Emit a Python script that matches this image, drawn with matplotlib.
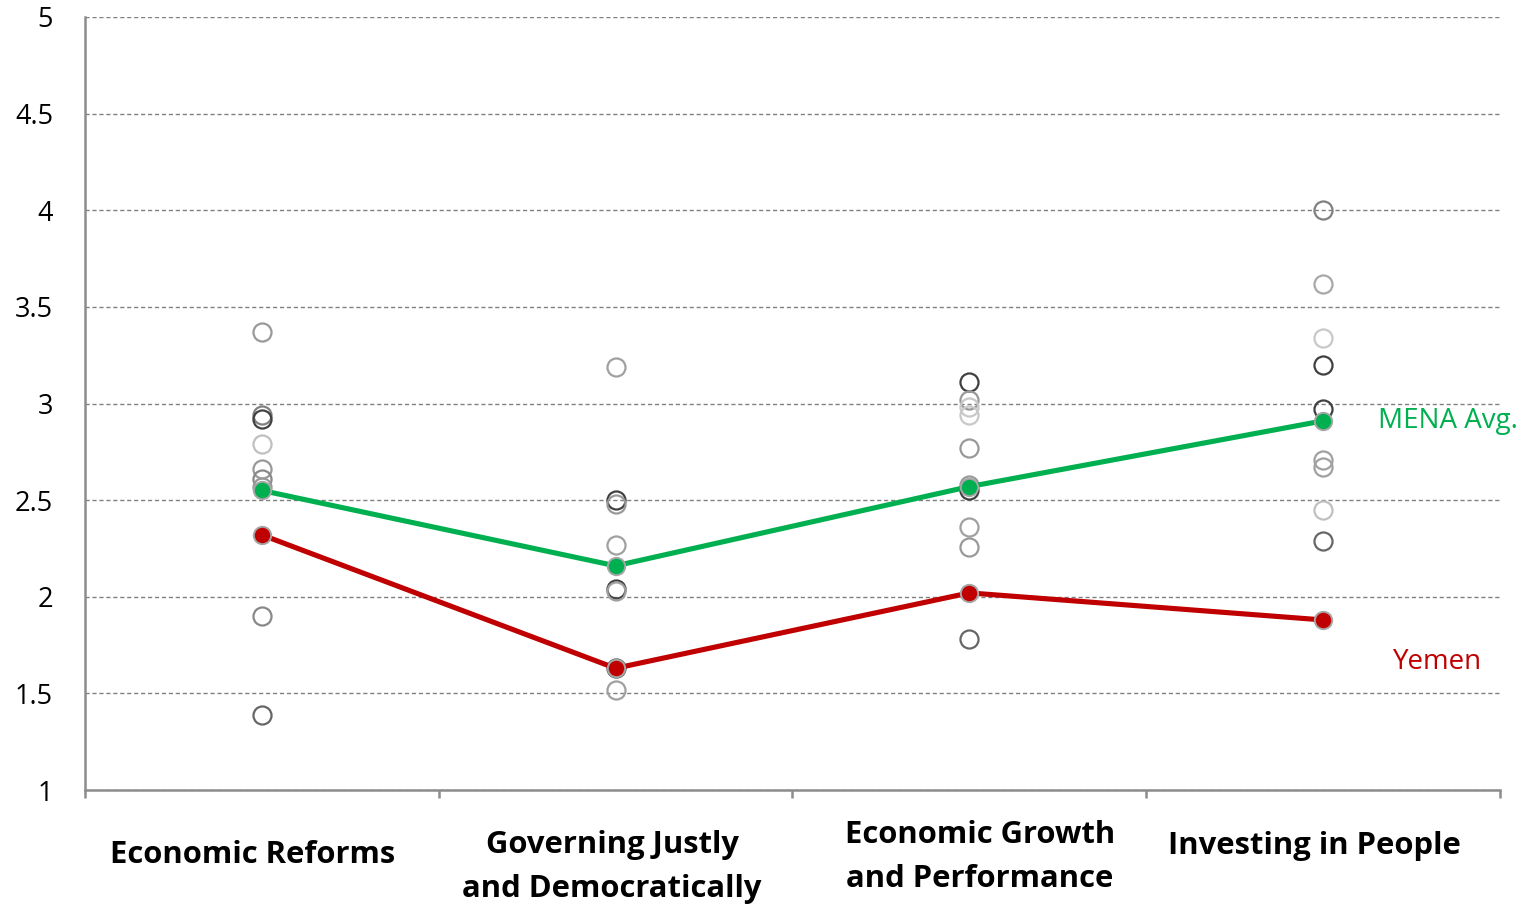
import matplotlib
matplotlib.use("Agg")
import matplotlib.pyplot as plt

# Pillar names shown under the x axis
categories = ["Economic Reforms", "Governing Justly\nand Democratically",
              "Economic Growth\nand Performance", "Investing in People"]

# Individual country scores per pillar, with the grey shade of each ring
country_scores = [
    [3.37, 2.94, 2.92, 2.79, 2.66, 2.61, 2.57, 1.90, 1.39],
    [3.19, 2.50, 2.48, 2.27, 2.04, 2.03, 1.63, 1.52],
    [3.11, 3.02, 2.98, 2.94, 2.77, 2.58, 2.55, 2.36, 2.26, 1.78],
    [4.00, 3.62, 3.34, 3.20, 2.97, 2.71, 2.67, 2.45, 2.29],
]
country_shades = [
    ["#999999", "#808080", "#404040", "#c0c0c0", "#999999", "#888888", "#999999", "#888888", "#666666"],
    ["#a0a0a0", "#404040", "#999999", "#a0a0a0", "#404040", "#a0a0a0", "#505050", "#a0a0a0"],
    ["#404040", "#999999", "#c8c8c8", "#c8c8c8", "#999999", "#999999", "#404040", "#a0a0a0", "#999999", "#666666"],
    ["#808080", "#a8a8a8", "#c8c8c8", "#404040", "#404040", "#a0a0a0", "#a0a0a0", "#c0c0c0", "#666666"],
]

mena_avg = [2.55, 2.16, 2.57, 2.91]
yemen = [2.32, 1.63, 2.02, 1.88]

green = "#00B050"
red = "#C00000"

plt.rcParams["font.family"] = ["Open Sans", "DejaVu Sans"]

fig = plt.figure(figsize=(15.32, 9.09), dpi=100)
ax = fig.add_axes([0.0555, 0.1309, 0.9235, 0.8504])

xs = [i + 0.5 for i in range(len(categories))]

for x, vals, shades in zip(xs, country_scores, country_shades):
    for v, c in zip(vals, shades):
        ax.plot([x], [v], "o", ms=13, mfc="none", mec=c, mew=1.6, zorder=3)

ax.plot(xs, mena_avg, "-", color=green, lw=3.7, zorder=4)
ax.plot(xs, mena_avg, "o", ms=12.5, mfc=green, mec="#a6a6a6", mew=1.4, zorder=5)
ax.plot(xs, yemen, "-", color=red, lw=3.7, zorder=4)
ax.plot(xs, yemen, "o", ms=12.5, mfc=red, mec="#a6a6a6", mew=1.4, zorder=5)

ax.text(3.655, mena_avg[-1], "MENA Avg.", color=green, fontsize=20,
        ha="left", va="center", clip_on=False)
ax.text(3.697, 1.66, "Yemen", color=red, fontsize=20,
        ha="left", va="center", clip_on=False)

ax.set_xlim(0, 4)
ax.set_ylim(1, 5)
ax.set_yticks([1, 1.5, 2, 2.5, 3, 3.5, 4, 4.5, 5])
ax.set_yticklabels(["1", "1.5", "2", "2.5", "3", "3.5", "4", "4.5", "5"])
ax.set_xticks([0, 1, 2, 3, 4])
ax.set_xticklabels([])

ax.grid(axis="y", color="#808080", linestyle=(0, (3, 2)), linewidth=1.0)
ax.set_axisbelow(True)
for s in ["top", "right"]:
    ax.spines[s].set_visible(False)
for s in ["left", "bottom"]:
    ax.spines[s].set_color("#8c8c8c")
    ax.spines[s].set_linewidth(1.8)

ax.tick_params(axis="y", length=0, labelsize=19.5, pad=23)
ax.tick_params(axis="x", length=6, width=1.8, color="#8c8c8c", direction="out")

# label centre offsets (x in data units, y in axes fraction)
label_pos = [(-0.025, -0.084), (-0.01, -0.100), (0.03, -0.087), (-0.025, -0.072)]
for x, lab, (dx, ly) in zip(xs, categories, label_pos):
    ax.text(x + dx, ly, lab, ha="center", va="center",
            fontsize=22.3, fontweight="bold", linespacing=1.6,
            transform=ax.get_xaxis_transform(), clip_on=False)

fig.savefig("out.png", dpi=100)
